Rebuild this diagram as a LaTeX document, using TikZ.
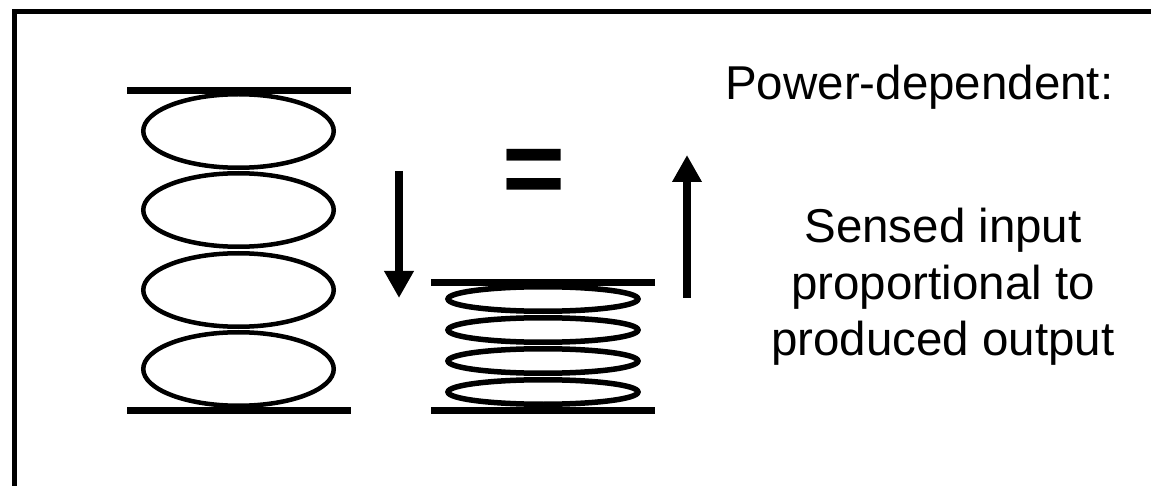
\documentclass[tikz,border=0pt]{standalone}
\usepackage{fontspec}
\setmainfont{Liberation Sans}
\usepackage{tikz}
\usetikzlibrary{arrows.meta, positioning}

\begin{document}
\begin{tikzpicture}[
    x=1pt, y=1pt,
    plate/.style={line width=7pt},
    coil/.style={line width=4.5pt},
    tightcoil/.style={line width=5.5pt},
    force/.style={line width=8.5pt, -{Triangle[length=27pt, width=28pt]}},
    caption/.style={inner sep=0pt, font=\fontsize{47.5}{56.5}\selectfont},
]
    \useasboundingbox (0,0) rectangle (1151,485);
    % frame (only top and left edges fall inside the picture)
    \draw[line width=4.5pt] (14.3,-10) |- (1170,473.5);

    % relaxed spring
    \draw[plate] (127,394) -- (351,394);
    \draw[plate] (127,74.3) -- (351,74.3);
    \draw[coil] (238.5,354) ellipse (95.25 and 36.75);
    \draw[coil] (238.5,275) ellipse (95.25 and 36.75);
    \draw[coil] (238.5,195) ellipse (95.25 and 36.75);
    \draw[coil] (238.5,116) ellipse (95.25 and 36.75);

    % compressed spring
    \draw[plate] (431,202.3) -- (655,202.3);
    \draw[plate] (431,74.3) -- (655,74.3);
    \draw[tightcoil] (543,186) ellipse (95 and 12.25);
    \draw[tightcoil] (543,155) ellipse (95 and 12.25);
    \draw[tightcoil] (543,124) ellipse (95 and 12.25);
    \draw[tightcoil] (543,93) ellipse (95 and 12.25);

    % arrows
    \coordinate (press) at (399,314);
    \coordinate (pressend) at (399,187);
    \coordinate (push) at (687,187);
    \coordinate (pushend) at (687,330);
    \draw[force] (press) -- (pressend);
    \draw[force] (push) -- (pushend);

    \node[anchor=base, inner sep=0pt, font=\fontsize{108}{108}\selectfont\bfseries] (equal) at (534.5,279) {=};

    \node[caption, anchor=base west] (title) at (725,385) {Power-dependent:};
    \node[caption, anchor=base, align=center] (sensed) at (943,129) {Sensed input\\ proportional to\\ produced output};
\end{tikzpicture}
\end{document}
